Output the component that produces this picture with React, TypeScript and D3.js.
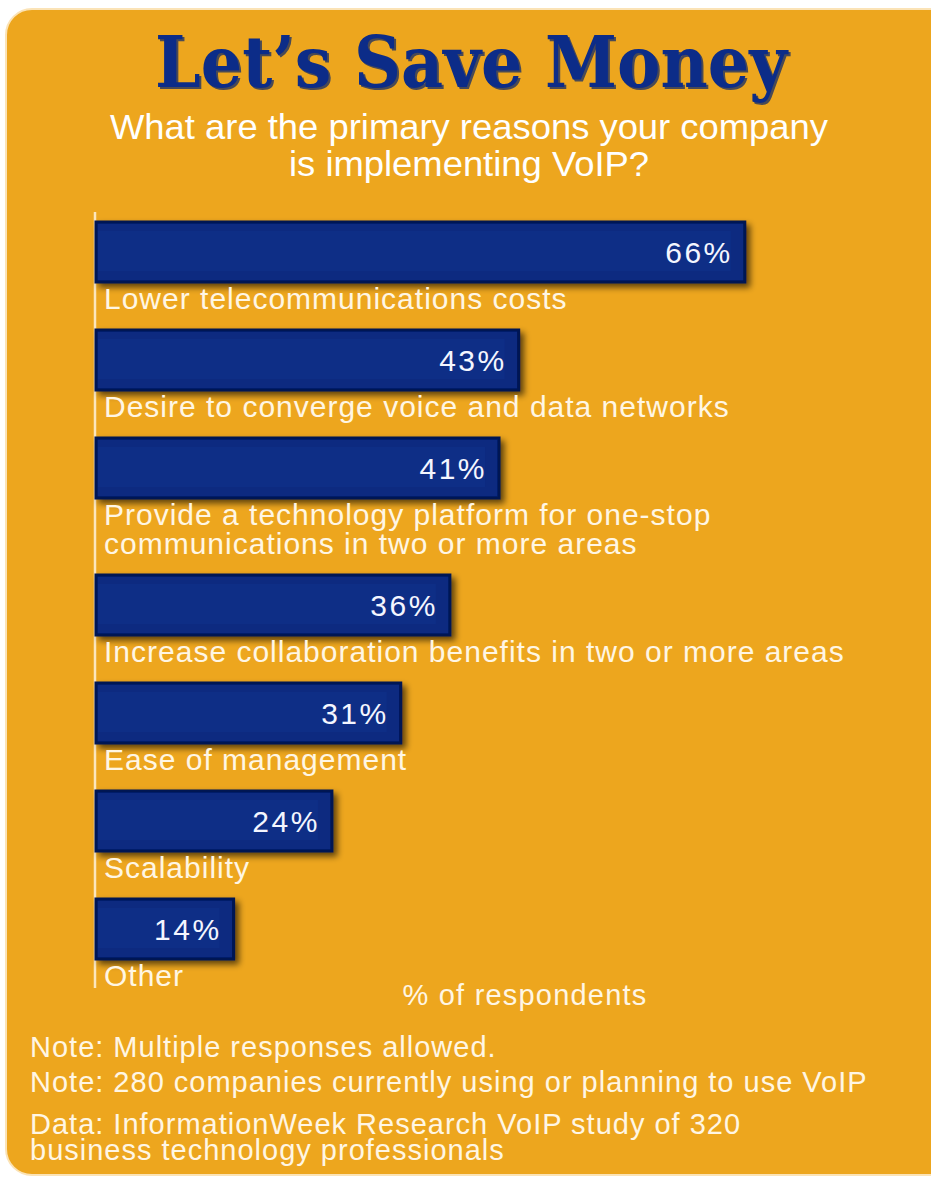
import React from "react";
import * as d3 from "d3";

const TITLE = "Let\u2019s Save Money";
const SUBTITLE = ["What are the primary reasons your company", "is implementing VoIP?"];
const CATEGORIES: string[][] = [
  ["Lower telecommunications costs"],
  ["Desire to converge voice and data networks"],
  ["Provide a technology platform for one-stop", "communications in two or more areas"],
  ["Increase collaboration benefits in two or more areas"],
  ["Ease of management"],
  ["Scalability"],
  ["Other"],
];
const VALUES = [66, 43, 41, 36, 31, 24, 14];
const AXIS_LABEL = "% of respondents";
const NOTES = [
  "Note: Multiple responses allowed.",
  "Note: 280 companies currently using or planning to use VoIP",
];
const SOURCE = ["Data: InformationWeek Research VoIP study of 320", "business technology professionals"];

const W = 931;
const H = 1178;
const ORANGE = "#EDA61E";
const NAVY = "#0B2A80";
const CREAM = "#FFF6E4";
const SANS = "'Liberation Sans', Arial, Helvetica, sans-serif";

export default function App() {
  const x0 = 96;
  const x = d3.scaleLinear().domain([0, 100]).range([x0, x0 + 983]);
  const barH = 60;
  const rowStep = 108;
  const lineH = 29;
  const yStart = 222;
  const ys: number[] = [];
  let acc = yStart;
  CATEGORIES.forEach((lines) => {
    ys.push(acc);
    acc += rowStep + (lines.length - 1) * lineH;
  });

  return (
    <div style={{ position: "absolute", left: 0, top: 0 }}>
      <svg width={W} height={H} viewBox={`0 0 ${W} ${H}`} style={{ display: "block" }}>
        <defs>
          <filter id="barShadow" x="-10%" y="-30%" width="130%" height="180%">
            <feGaussianBlur in="SourceAlpha" stdDeviation="3" />
            <feOffset dx="4" dy="4" result="off" />
            <feComponentTransfer>
              <feFuncA type="linear" slope="0.6" />
            </feComponentTransfer>
            <feMerge>
              <feMergeNode />
              <feMergeNode in="SourceGraphic" />
            </feMerge>
          </filter>
        </defs>
        <rect x={0} y={0} width={W} height={H} fill="#ffffff" />
        <rect x={6} y={9} width={W + 20} height={H + 20 - 32} rx={26} ry={26} fill={ORANGE} stroke="#FBE3B6" strokeWidth={2} />

        {/* Title with shadow */}
        <text x={471} y={87} textAnchor="middle" fontFamily="'DejaVu Serif', serif" fontWeight="bold" fontSize={71}
          textLength={632} lengthAdjust="spacingAndGlyphs" fill="#4A4A55" transform="translate(2,2)">
          {TITLE}
        </text>
        <text x={471} y={87} textAnchor="middle" fontFamily="'DejaVu Serif', serif" fontWeight="bold" fontSize={71}
          textLength={632} lengthAdjust="spacingAndGlyphs" fill="#0C2C88">
          {TITLE}
        </text>

        {SUBTITLE.map((s, i) => (
          <text key={i} x={469} y={139 + i * 37} textAnchor="middle" fontFamily={SANS} fontSize={35}
            textLength={i === 0 ? 718 : 360} lengthAdjust="spacingAndGlyphs" fill="#ffffff">
            {s}
          </text>
        ))}

        {/* axis line */}
        <line x1={x0 - 1} x2={x0 - 1} y1={212} y2={988} stroke="#FCE6BC" strokeWidth={2.5} />

        {VALUES.map((v, i) => {
          const y = ys[i];
          const xe = x(v);
          return (
            <g key={i}>
              <rect x={x0} y={y} width={xe - x0} height={barH} fill={NAVY} stroke="#021552" strokeWidth={3}
                filter="url(#barShadow)" />
              <rect x={x0 + 2} y={y + 9} width={xe - x0 - 16} height={barH - 20} fill="#0E2E86" />
              <text x={xe - 12} y={y + barH / 2 + 11} textAnchor="end" fontFamily={SANS} fontSize={30}
                letterSpacing={2.5} fill="#F4F6FF">
                {`${v}%`}
              </text>
              {CATEGORIES[i].map((ln, j) => (
                <text key={j} x={104} y={y + barH + 27 + j * lineH} fontFamily={SANS} fontSize={30}
                  letterSpacing={1} fill={CREAM}>
                  {ln}
                </text>
              ))}
            </g>
          );
        })}

        <text x={525} y={1005} textAnchor="middle" fontFamily={SANS} fontSize={29} fill={CREAM} letterSpacing={1.2}>
          {AXIS_LABEL}
        </text>

        {NOTES.map((n, i) => (
          <text key={i} x={30} y={1057 + i * 35} fontFamily={SANS} fontSize={29} fill={CREAM} letterSpacing={1}>
            {n}
          </text>
        ))}
        {SOURCE.map((n, i) => (
          <text key={i} x={30} y={1134 + i * 26} fontFamily={SANS} fontSize={29} fill={CREAM} letterSpacing={1}>
            {n}
          </text>
        ))}
      </svg>
    </div>
  );
}
